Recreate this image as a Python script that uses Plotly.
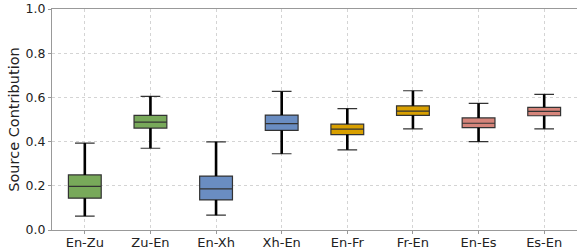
import plotly.graph_objects as go

categories = ["En-Zu", "Zu-En", "En-Xh", "Xh-En", "En-Fr", "Fr-En", "En-Es", "Es-En"]
lower = [0.063, 0.370, 0.067, 0.345, 0.363, 0.458, 0.400, 0.458]
q1 = [0.144, 0.461, 0.136, 0.451, 0.432, 0.519, 0.463, 0.517]
median = [0.197, 0.488, 0.186, 0.481, 0.456, 0.538, 0.483, 0.537]
q3 = [0.249, 0.519, 0.244, 0.520, 0.479, 0.562, 0.507, 0.555]
upper = [0.393, 0.605, 0.399, 0.627, 0.549, 0.630, 0.573, 0.614]
colors = ["#78a95a", "#78a95a", "#6a8dc2", "#6a8dc2", "#d9a000", "#d9a000", "#d6857b", "#d6857b"]
yticks = [0.0, 0.2, 0.4, 0.6, 0.8, 1.0]

fig = go.Figure()
for i, c in enumerate(categories):
    fig.add_trace(go.Box(
        x=[c], q1=[q1[i]], median=[median[i]], q3=[q3[i]],
        lowerfence=[lower[i]], upperfence=[upper[i]],
        fillcolor=colors[i], line=dict(color="#333333", width=1.2),
        width=0.5, whiskerwidth=0.6, showlegend=False, hoverinfo="skip",
    ))
# thick black whiskers
for i, c in enumerate(categories):
    for a, b in ((q3[i], upper[i]), (lower[i], q1[i])):
        fig.add_trace(go.Scatter(
            x=[c, c], y=[a, b], mode="lines",
            line=dict(color="black", width=2.6), showlegend=False, hoverinfo="skip",
        ))

tick_font = dict(family="DejaVu Sans", size=13, color="#222222")
fig.update_layout(
    width=578, height=249,
    margin=dict(l=52, r=1, t=9, b=19, autoexpand=False),
    plot_bgcolor="white", paper_bgcolor="white",
    boxmode="overlay",
    font=tick_font,
)
fig.update_xaxes(
    type="category", categoryorder="array", categoryarray=categories,
    range=[-0.5, 7.5], automargin=False,
    showgrid=True, gridcolor="#d4d4d4", griddash="3px,3px", gridwidth=1,
    showline=True, linecolor="#999999", linewidth=1, mirror=True,
    ticks="outside", ticklen=3, tickcolor="#999999",
    tickfont=tick_font, ticklabelstandoff=-3, zeroline=False,
)
fig.update_yaxes(
    range=[0, 1.0], tickvals=yticks, ticktext=[f"{v:.1f}" for v in yticks],
    automargin=False,
    showgrid=True, gridcolor="#d4d4d4", griddash="3px,3px", gridwidth=1,
    showline=True, linecolor="#999999", linewidth=1,
    ticks="outside", ticklen=3, tickcolor="#999999",
    tickfont=dict(family="DejaVu Sans", size=12.5, color="#222222"),
    title=dict(text="Source Contribution", font=dict(family="DejaVu Sans", size=14.5, color="#222222"), standoff=2),
    zeroline=False,
)
fig.write_html(
    "out.html",
    config={"displayModeBar": False, "staticPlot": True},
    post_script="document.body.style.margin='0';document.body.style.overflow='hidden';",
)
